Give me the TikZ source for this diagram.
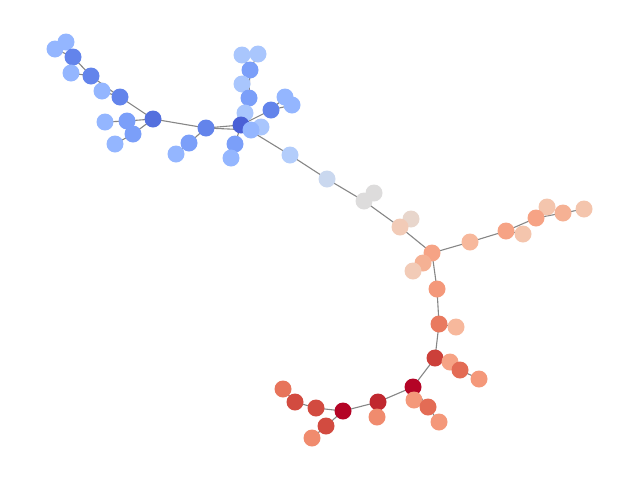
\documentclass[tikz,border=0pt]{standalone}
\begin{document}
\begin{tikzpicture}[x=1pt,y=-1pt,
  nd/.style={circle,inner sep=0pt,minimum size=17pt,draw=none,fill=#1},
  ed/.style={draw=gray!95,line width=1.1pt}]
\useasboundingbox (0,0) rectangle (640,480);
\definecolor{b1}{HTML}{4A60D6}
\definecolor{b1a}{HTML}{5470DE}
\definecolor{b2}{HTML}{6384EB}
\definecolor{b3}{HTML}{7B9FF9}
\definecolor{b4}{HTML}{94B6FF}
\definecolor{b5}{HTML}{A9C6FD}
\definecolor{c1}{HTML}{B3CDFB}
\definecolor{c2}{HTML}{CAD8EF}
\definecolor{g1}{HTML}{DDDCDC}
\definecolor{p1}{HTML}{E8D6CC}
\definecolor{p2}{HTML}{F2CBB7}
\definecolor{p3}{HTML}{F6A385}
\definecolor{p4}{HTML}{F5B194}
\definecolor{p5}{HTML}{F7B89C}
\definecolor{p6}{HTML}{F4C5AD}
\definecolor{o1}{HTML}{F4987A}
\definecolor{o2}{HTML}{E97A5F}
\definecolor{o3}{HTML}{E36C55}
\definecolor{o4}{HTML}{F08B6E}
\definecolor{r1}{HTML}{CC403A}
\definecolor{r2}{HTML}{B40426}
\definecolor{r3}{HTML}{C0282F}
\definecolor{r4}{HTML}{D24B40}
\definecolor{r5}{HTML}{E7745B}
% coordinates
\coordinate (a1) at (55,49);
\coordinate (a2) at (66,42);
\coordinate (a3) at (73,57);
\coordinate (a4) at (71,73);
\coordinate (a5) at (91,76);
\coordinate (a6) at (102,91);
\coordinate (a7) at (120,97);
\coordinate (a8) at (153,119);
\coordinate (a9) at (105,122);
\coordinate (a10) at (127,121);
\coordinate (a11) at (133,134);
\coordinate (a12) at (115,144);
\coordinate (bb1) at (206,128);
\coordinate (bb2) at (189,143);
\coordinate (bb3) at (176,154);
\coordinate (c) at (241,125);
\coordinate (u1) at (242,55);
\coordinate (u2) at (258,54);
\coordinate (u3) at (250,70);
\coordinate (u4) at (242,84);
\coordinate (u5) at (249,98);
\coordinate (u6) at (245,113);
\coordinate (v1) at (271,110);
\coordinate (v2) at (285,97);
\coordinate (v3) at (292,105);
\coordinate (w1) at (251,130);
\coordinate (w2) at (261,127);
\coordinate (w3) at (235,144);
\coordinate (w4) at (231,158);
\coordinate (s1) at (290,155);
\coordinate (s2) at (327,179);
\coordinate (s3) at (364,201);
\coordinate (s4) at (374,193);
\coordinate (s5) at (400,227);
\coordinate (s6) at (411,219);
\coordinate (h) at (432,253);
\coordinate (h1) at (423,263);
\coordinate (h2) at (413,271);
\coordinate (e1) at (470,242);
\coordinate (e2) at (506,231);
\coordinate (e3) at (523,234);
\coordinate (e4) at (536,218);
\coordinate (e5) at (547,207);
\coordinate (e6) at (563,213);
\coordinate (e7) at (584,209);
\coordinate (d1) at (437,289);
\coordinate (d2) at (439,324);
\coordinate (d3) at (456,327);
\coordinate (d4) at (435,358);
\coordinate (d5) at (450,362);
\coordinate (d6) at (460,370);
\coordinate (d7) at (479,379);
\coordinate (f1) at (413,387);
\coordinate (f2) at (414,400);
\coordinate (f3) at (428,407);
\coordinate (f4) at (439,422);
\coordinate (f5) at (378,402);
\coordinate (f6) at (377,417);
\coordinate (f7) at (343,411);
\coordinate (f8) at (316,408);
\coordinate (f9) at (295,402);
\coordinate (f10) at (283,389);
\coordinate (f11) at (326,426);
\coordinate (f12) at (312,438);
% edges
\foreach \p/\q in {a1/a3,a2/a3,a3/a5,a4/a5,a5/a7,a6/a7,a7/a8,a8/a10,a10/a9,a8/a11,a11/a12,a8/bb1,bb1/bb2,bb2/bb3,bb1/c,bb1/w1,
  c/u6,c/u5,u5/u3,u4/u3,u3/u1,u3/u2,c/v1,v1/v2,v1/v3,c/w1,c/w2,c/w3,w3/w4,c/s1,s1/s2,s2/s3,s3/s4,s3/s5,s5/s6,s5/h,
  h/h1,h1/h2,h/e1,e1/e2,e2/e3,e2/e4,e4/e5,e4/e6,e6/e7,h/d1,d1/d2,d2/d3,d2/d4,d4/d5,d5/d6,d6/d7,d4/f1,f1/f2,f1/f3,f3/f4,
  f1/f5,f5/f6,f5/f7,f7/f8,f8/f9,f9/f10,f7/f11,f11/f12}
  \draw[ed] (\p) -- (\q);
% nodes
\foreach \n/\c in {a1/b4,a2/b4,a3/b2,a4/b4,a5/b2,a6/b4,a7/b2,a8/b1a,a9/b4,a10/b3,a11/b3,a12/b4,bb1/b2,bb2/b3,bb3/b4,
  u1/b5,u2/b5,u3/b3,u4/b5,u5/b3,u6/b5,v1/b2,v2/b4,v3/b4,c/b1,w2/b5,w1/b4,w3/b3,w4/b4,
  s1/c1,s2/c2,s4/g1,s3/g1,s6/p1,s5/p2,h/p3,h1/p4,h2/p2,e1/p5,e2/p3,e3/p6,e5/p6,e4/p3,e6/p4,e7/p6,
  d1/o1,d2/o2,d3/p5,d4/r1,d5/p3,d6/o3,d7/o1,f1/r2,f2/o1,f3/o3,f4/o1,f5/r3,f6/o4,f7/r2,f8/r4,f9/r4,f10/r5,f11/r4,f12/o4}
  \node[nd=\c] (n\n) at (\n) {};
\end{tikzpicture}
\end{document}
